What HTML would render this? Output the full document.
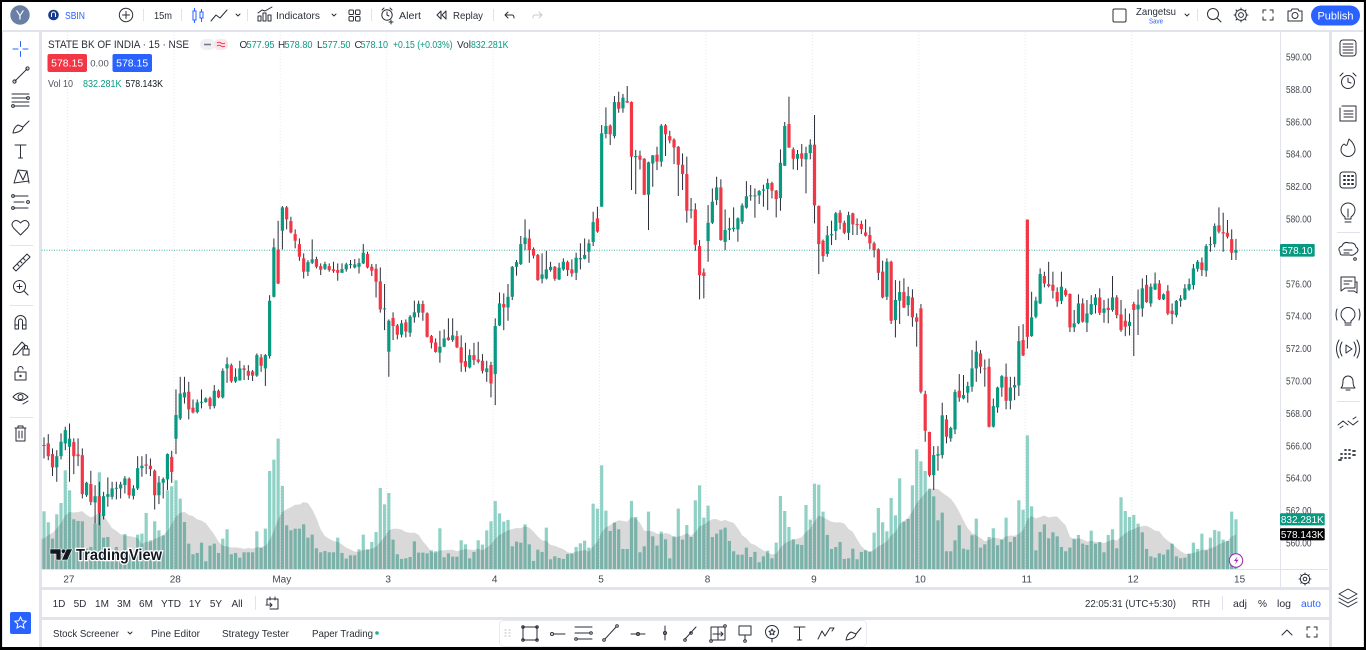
<!DOCTYPE html>
<html lang="en">
<head>
<meta charset="utf-8">
<title>SBIN 15m chart</title>
<style>
html,body{margin:0;padding:0;width:1366px;height:650px;overflow:hidden;background:#000}
#stage{position:absolute;left:2px;top:2px;width:1362px;height:645px;background:#e1e4ec}
.panel{position:absolute;background:#fff}
svg#main{position:absolute;left:0;top:0}
text{font-family:"Liberation Sans",sans-serif;font-size:10.5px;fill:#2a2e39}
.ic{fill:none;stroke:#2a2e39;stroke-width:1;stroke-linecap:round;stroke-linejoin:round}
.t{font-size:10.5px}
.teal{fill:#089981}
</style>
</head>
<body>
<div id="stage"></div>
<div class="panel" style="left:2px;top:2px;width:1361px;height:27.5px"></div>
<div class="panel" style="left:2.5px;top:32px;width:36px;height:615px"></div>
<div class="panel" style="left:41.5px;top:32px;width:1287px;height:555px"></div>
<div class="panel" style="left:41.5px;top:590px;width:1287px;height:26.7px"></div>
<div class="panel" style="left:41.5px;top:620px;width:1287px;height:27px"></div>
<div class="panel" style="left:1332px;top:32px;width:31px;height:615px"></div>

<svg id="main" width="1366" height="650" viewBox="0 0 1366 650" xmlns="http://www.w3.org/2000/svg">
<defs><clipPath id="plotClip"><rect x="41.5" y="32" width="1239" height="537.5"/></clipPath></defs>

<g id="grid"></g>
<g id="plot" clip-path="url(#plotClip)">
  <g id="volumes"></g>
  <path id="sma" fill="rgba(0,0,0,0.15)"></path>
  <line id="lastLine" x1="41.5" x2="1281" stroke="#089981" stroke-width="1" stroke-dasharray="1 1.5" opacity="0.75"></line>
  <g id="candles"></g>
</g>

<g>
  <g fill="#131722" stroke="#fff" stroke-width="0.6">
    <path d="M50 549h11v11h-5v-6h-6z"/><circle cx="63.6" cy="551.3" r="2.4"/><path d="M66.5 549h6l-5 11h-6z"/>
  </g>
  <text x="76" y="560" textLength="86" lengthAdjust="spacingAndGlyphs" style="font-size:15.5px;font-weight:bold;fill:#131722;stroke:#fff;stroke-width:2.5px;paint-order:stroke">TradingView</text>
</g>

<line x1="1280.5" y1="32" x2="1280.5" y2="587" stroke="#e0e3eb"/>
<line x1="41.5" y1="569.5" x2="1328" y2="569.5" stroke="#e0e3eb"/>
<g id="priceTicks"></g>
<g id="timeTicks"></g>

<g>
  <rect id="lastTag" x="1280" width="34.7" height="12.6" rx="1" fill="#089981"/>
  <text id="lastTagText" x="1297.3" fill="#fff" text-anchor="middle" style="fill:#fff;font-size:10px"></text>
</g>
<g>
  <rect x="1280" y="513.2" width="44.7" height="12.2" rx="1" fill="#089981"/>
  <text id="volTagText" x="1302.3" y="522.8" text-anchor="middle" style="fill:#fff;font-size:10px"></text>
</g>
<g>
  <rect x="1280" y="528.2" width="44.7" height="12.2" rx="1" fill="#000"/>
  <text id="smaTagText" x="1302.3" y="537.8" text-anchor="middle" style="fill:#fff;font-size:10px"></text>
</g>

<g>
  <circle cx="1236" cy="560.5" r="6.7" fill="#fff" stroke="#9c27b0" stroke-width="1"/>
  <path d="M1237.5 556.5l-3.5 4.5h2.4l-1.4 3.5 3.6-4.8h-2.4z" fill="#9c27b0"/>
</g>
<g transform="translate(1305,579)">
  <circle r="4.7" class="ic"/><circle r="1.8" class="ic"/>
  <path class="ic" d="M0-6v1.5M0 4.5V6M-6 0h1.5M4.5 0H6M-4.2-4.2l1 1M3.2 3.2l1 1M4.2-4.2l-1 1M-3.2 3.2l-1 1"/>
</g>

<!-- legend -->
<text x="48" y="48" textLength="141" lengthAdjust="spacingAndGlyphs" style="font-size:11px">STATE BK OF INDIA · 15 · NSE</text>
<g>
  <rect x="200" y="39" width="15" height="11" rx="5" fill="#eef0f3"/>
  <rect x="214" y="39" width="14" height="11" rx="5" fill="#fce4ec"/>
  <rect x="204" y="43.7" width="7" height="1.6" fill="#787b86"/>
  <path d="M217 43q2-1.5 4 0t4 0M217 46q2-1.5 4 0t4 0" fill="none" stroke="#f23645" stroke-width="1"/>
</g>
<g style="font-size:10px">
  <text x="239.5" y="48" style="font-size:10px">O</text><text x="246.5" y="48" class="teal" textLength="28" lengthAdjust="spacingAndGlyphs" style="font-size:10px">577.95</text>
  <text x="278" y="48" style="font-size:10px">H</text><text x="284.5" y="48" class="teal" textLength="28" lengthAdjust="spacingAndGlyphs" style="font-size:10px">578.80</text>
  <text x="317" y="48" style="font-size:10px">L</text><text x="322.5" y="48" class="teal" textLength="28" lengthAdjust="spacingAndGlyphs" style="font-size:10px">577.50</text>
  <text x="354.5" y="48" style="font-size:10px">C</text><text x="360.5" y="48" class="teal" textLength="27.5" lengthAdjust="spacingAndGlyphs" style="font-size:10px">578.10</text>
  <text x="393" y="48" class="teal" textLength="59.5" lengthAdjust="spacingAndGlyphs" style="font-size:10px">+0.15 (+0.03%)</text>
  <text x="457" y="48" textLength="14" lengthAdjust="spacingAndGlyphs" style="font-size:10px">Vol</text><text x="471" y="48" class="teal" textLength="37.5" lengthAdjust="spacingAndGlyphs" style="font-size:10px">832.281K</text>
</g>
<g><rect x="47.5" y="54" width="39.5" height="18" rx="2" fill="#f23645"/><text x="67.2" y="66.5" text-anchor="middle" style="fill:#fff;font-size:10.5px">578.15</text></g>
<text x="99.5" y="66.5" text-anchor="middle" style="font-size:9.5px;fill:#50535e">0.00</text>
<g><rect x="112.5" y="54" width="39.5" height="18" rx="2" fill="#2962ff"/><text x="132.2" y="66.5" text-anchor="middle" style="fill:#fff;font-size:10.5px">578.15</text></g>
<g>
  <text x="48" y="87" textLength="25" lengthAdjust="spacingAndGlyphs" style="font-size:10px;fill:#50535e">Vol 10</text>
  <text x="83" y="87" class="teal" textLength="38.5" lengthAdjust="spacingAndGlyphs" style="font-size:10px">832.281K</text>
  <text x="125.5" y="87" textLength="37.5" lengthAdjust="spacingAndGlyphs" style="font-size:10px;fill:#131722">578.143K</text>
</g>

<!-- top toolbar -->
<g><circle cx="20" cy="15" r="9.7" fill="#6a7fa6"/><text x="20" y="19.5" text-anchor="middle" style="fill:#fff;font-size:13px">Y</text></g>
<g><circle cx="53.5" cy="15" r="5.3" fill="#1a3a8a"/><path d="M51.5 17v-3a2 2 0 0 1 4 0v3" fill="none" stroke="#fff" stroke-width="1"/><text x="65" y="19" textLength="20" lengthAdjust="spacingAndGlyphs" style="font-size:10px;fill:#2962ff">SBIN</text></g>
<g transform="translate(126,15)"><circle r="6.7" class="ic"/><path class="ic" d="M-3.5 0h7M0-3.5v7"/></g>
<path d="M143.5 9v12M181.5 9v12M247.5 9v12M371.5 9v12M493.5 9v12M1197.5 9v12" stroke="#e0e3eb"/>
<text x="154" y="19" textLength="18" lengthAdjust="spacingAndGlyphs" style="font-size:10.5px">15m</text>
<g stroke="#2962ff" fill="none"><rect x="193" y="11" width="3" height="9"/><path d="M194.5 8v3M194.5 20v3"/><rect x="200" y="12" width="3" height="6"/><path d="M201.5 9v3M201.5 18v4"/></g>
<path class="ic" d="M211 21l5-6 4 3 7-8"/>
<path class="ic" d="M236 14l2 2 2-2" stroke-width="0.8"/>
<g><path class="ic" d="M258 21v-5h3v5zM263 21v-8h3v8zM268 21v-6h3v6zM258 13l4-3 3 1 7-4"/></g>
<text x="276" y="19" textLength="44" lengthAdjust="spacingAndGlyphs" style="font-size:10.5px">Indicators</text>
<path class="ic" d="M332 14l2 2 2-2"/>
<g class="ic"><rect x="349" y="10" width="4.5" height="4.5" rx="1"/><rect x="355.5" y="10" width="4.5" height="4.5" rx="1"/><rect x="349" y="16.5" width="4.5" height="4.5" rx="1"/><rect x="355.5" y="16.5" width="4.5" height="4.5" rx="1"/></g>
<g class="ic"><circle cx="387" cy="15" r="5.2"/><path d="M387 12v3l2 1M382 10l2-2M392 10l-2-2M391 20v4M389 22h4"/></g>
<text x="399" y="19" textLength="22" lengthAdjust="spacingAndGlyphs" style="font-size:10.5px">Alert</text>
<path class="ic" d="M441 11l-4 4 4 4zM446 11l-4 4 4 4z"/>
<text x="453" y="19" textLength="30" lengthAdjust="spacingAndGlyphs" style="font-size:10.5px">Replay</text>
<path class="ic" d="M508 12l-3 3 3 3M505 15h7q2 0 2 3"/>
<path class="ic" d="M539 12l3 3-3 3M542 15h-7q-2 0-2 3" style="stroke:#c8cad0"/>
<rect x="1113" y="9" width="13" height="13" rx="1.5" class="ic"/>
<text x="1136" y="15" textLength="40" lengthAdjust="spacingAndGlyphs" style="font-size:10.5px">Zangetsu</text>
<text x="1149" y="23.5" textLength="14" lengthAdjust="spacingAndGlyphs" style="font-size:7.5px;fill:#2962ff">Save</text>
<path class="ic" d="M1185 14l2 2 2-2"/>
<g class="ic"><circle cx="1213" cy="14" r="5.5"/><path d="M1217 18l4 4"/></g>
<g transform="translate(1241,15)" class="ic"><circle r="5.4"/><circle r="2.4"/><path d="M0-7v1.6M0 5.4V7M-7 0h1.6M5.4 0H7M-5-5l1.2 1.2M3.8 3.8L5 5M5-5L3.8-3.8M-3.8 3.8L-5 5"/></g>
<path class="ic" d="M1263 13v-3h3M1270 10h3v3M1273 17v3h-3M1266 20h-3v-3"/>
<g class="ic"><path d="M1288 11h3l1-2h6l1 2h3v10h-14z"/><circle cx="1295" cy="15.5" r="3"/></g>
<g><rect x="1311" y="5.5" width="49" height="20" rx="10" fill="#2962ff"/><text x="1335.5" y="19.5" text-anchor="middle" style="fill:#fff;font-size:11px">Publish</text></g>

<!-- left toolbar -->
<g class="ic">
  <path style="stroke:#2962ff" d="M13 49h5M23 49h5M20.500 41.500v5M20.500 51.500v5"/>
  <path d="M15 81l12-12"/><circle cx="14.500" cy="81.500" r="1.600"/><circle cx="27.500" cy="68.500" r="1.600"/>
  <path d="M12 94h17M12 98h15M12 102h17M14 106h15"/><circle cx="28" cy="98" r="1.400"/><circle cx="13" cy="106" r="1.400"/>
  <path d="M13 133q1-6 5-8l5 2q-1 5-10 6zM23 127l6-6"/>
  <path d="M15 145h11M20.500 145v13M18.500 158h4"/>
  <path d="M14 183l4-13 5 10 4-9 2 12M14 183l15-2M18 170l9 1"/>
  <path d="M14 196h14M14 202h10M14 208h14"/><circle cx="13" cy="196" r="1.400"/><circle cx="28" cy="202" r="1.400"/><circle cx="13" cy="208" r="1.400"/>
  <path d="M20.500 235l-7-7q-3-4 0-6.500t7 1.500q4-4 7-1.500t0 6.500z"/>
  <path d="M13 268l14-14 3 3-14 14zM17 264l2 2M20 261l2 2M23 258l2 2"/>
  <circle cx="19.500" cy="286.500" r="6"/><path d="M24 291l4 4M17 286.500h5M19.500 284v5"/>
  <path d="M15 329v-8a5.500 5.500 0 0 1 11 0v8h-3.500v-8a2 2 0 0 0-4 0v8zM15 325h3.500M22.500 325H26"/>
  <path d="M14 351l8-9 3 3-8 9-4 1zM23 349h6v6h-6zM24.500 349v-2a1.500 1.500 0 0 1 3 0v2"/>
  <path d="M15 372h11v8H15zM18 372v-3a2.500 2.500 0 0 1 5 0"/><circle cx="20.500" cy="376" r="0.700"/>
  <path d="M13 397q7-8 15 0q-8 7-15 0z"/><circle cx="20.500" cy="397" r="2.500"/><path d="M23 404l5-3"/>
  <path d="M15 428h11M18 428v-2h5v2M16 428v13h9v-13M19 431v7M22 431v7"/>
</g>
<path d="M10 245.500h23M10 305.500h23M10 417.500h23" stroke="#e0e3eb"/>
<g><rect x="10" y="612" width="21" height="22" rx="2" fill="#2962ff"/><path d="M20.500 617l1.700 3.700 4 .5-3 2.800.8 4-3.500-2-3.500 2 .8-4-3-2.800 4-.5z" fill="none" stroke="#fff"/></g>

<!-- right toolbar -->
<g class="ic">
  <g><rect x="1340" y="40" width="16" height="16" rx="3"/><path d="M1343 44h10M1343 47h10M1343 50h10M1343 53h10"/></g>
  <g><circle cx="1348" cy="82" r="6.500"/><path d="M1348 78v4l3 1M1340 76l3-3M1356 76l-3-3"/></g>
  <g><path d="M1342 106h11l3 0v15h-16v-13M1344 111h9M1344 114h9M1344 117h9"/></g>
  <g><path d="M1349 139q5 4 6 10a7 7 0 0 1-14 1q0-4 3-6 2 2 3 1 1-3 2-6z"/></g>
  <g><rect x="1340" y="172" width="16" height="16" rx="3"/><path d="M1344 176h1M1348 176h1M1352 176h1M1344 180h1M1348 180h1M1352 180h1M1344 184h1M1348 184h1M1352 184h1" stroke-width="2"/></g>
  <g><path d="M1345 217q-4-3-4-7a7 7 0 0 1 14 0q0 4-4 7v2h-6zM1345 222h6M1348 217v-8"/></g>
  <g><path d="M1340 252q-3-4 2-6 2-5 7-3 6-1 7 4 4 3 0 6-3 3-6 2h-8q-2 0-2-3zM1344 250h8M1344 253h5"/><circle cx="1355" cy="259" r="1.300"/></g>
  <g><path d="M1341 277h14v11h-10l-4 3zM1344 281h8M1344 284h5M1356 282h1v11l-3-2h-6"/></g>
  <g><path d="M1345 321q-4-3-4-6.500a7 7 0 0 1 14 0q0 3.500-4 6.500v2h-6zM1345 325h6M1337 309q-2 5 0 11M1359 309q2 5 0 11"/></g>
  <g><path d="M1346 345l6 4-6 4zM1342 342q-4 7 0 14M1354 342q4 7 0 14M1339 340q-5 9 0 18M1357 340q5 9 0 18"/></g>
  <g><path d="M1341 388q2-2 2-7a5 5 0 0 1 10 0q0 5 2 7zM1346 390h4"/></g>
  <g><path d="M1338 425l5-4 5 4M1348 421l5 4 5-4M1340 428l3-2M1353 419l3-2"/></g>
  <g><path d="M1341 454h1M1345 454h1M1349 454h1M1345 458h1M1349 458h1M1341 458h1M1353 451h2M1353 455h2M1345 450h1M1349 450h1M1339 460h2" stroke-width="1.800"/></g>
  <g><path d="M1348 589l9 5-9 5-9-5zM1339 598l9 5 9-5M1339 602l9 5 9-5"/></g>
</g>
<path d="M1337 232.500h23M1337 401.500h23" stroke="#e0e3eb"/>

<!-- range bar -->
<g style="font-size:10px">
  <text x="59" y="607" text-anchor="middle" style="font-size:10px">1D</text>
  <text x="80" y="607" text-anchor="middle" style="font-size:10px">5D</text>
  <text x="102" y="607" text-anchor="middle" style="font-size:10px">1M</text>
  <text x="124" y="607" text-anchor="middle" style="font-size:10px">3M</text>
  <text x="146" y="607" text-anchor="middle" style="font-size:10px">6M</text>
  <text x="171" y="607" text-anchor="middle" style="font-size:10px">YTD</text>
  <text x="195" y="607" text-anchor="middle" style="font-size:10px">1Y</text>
  <text x="216" y="607" text-anchor="middle" style="font-size:10px">5Y</text>
  <text x="237" y="607" text-anchor="middle" style="font-size:10px">All</text>
</g>
<path d="M255.500 596v14" stroke="#e0e3eb"/>
<path class="ic" d="M267 599h11v10h-8M267 599v5M270 597v3M275 597v3M266 605h6M270 603l2 2-2 2"/>
<text x="1085" y="607" textLength="91" lengthAdjust="spacingAndGlyphs" style="font-size:10.5px">22:05:31 (UTC+5:30)</text>
<text x="1192" y="607" textLength="18" lengthAdjust="spacingAndGlyphs" style="font-size:10.5px">RTH</text>
<path d="M1222.500 596v14" stroke="#e0e3eb"/>
<text x="1233" y="607" textLength="14" lengthAdjust="spacingAndGlyphs" style="font-size:10.5px">adj</text>
<text x="1258" y="607" textLength="9" lengthAdjust="spacingAndGlyphs" style="font-size:10.5px">%</text>
<text x="1277" y="607" textLength="14" lengthAdjust="spacingAndGlyphs" style="font-size:10.5px">log</text>
<text x="1301" y="607" textLength="20" lengthAdjust="spacingAndGlyphs" style="font-size:10.5px;fill:#2962ff">auto</text>

<!-- bottom panel -->
<text x="53" y="637" textLength="66" lengthAdjust="spacingAndGlyphs" style="font-size:10.5px">Stock Screener</text>
<path class="ic" d="M128 632l2 2 2-2"/>
<text x="151" y="637" textLength="49" lengthAdjust="spacingAndGlyphs" style="font-size:10.5px">Pine Editor</text>
<text x="222" y="637" textLength="67" lengthAdjust="spacingAndGlyphs" style="font-size:10.5px">Strategy Tester</text>
<text x="312" y="637" textLength="61" lengthAdjust="spacingAndGlyphs" style="font-size:10.5px">Paper Trading</text>
<circle cx="377" cy="633" r="1.800" fill="#22ab94"/>
<path class="ic" d="M1282 635l5-5 5 5"/>
<path class="ic" d="M1307 630v-3h3M1314 627h3v3M1317 634v3h-3M1310 637h-3v-3"/>

<!-- floating drawing bar -->
<g>
  <rect x="499.500" y="620.500" width="367" height="26" rx="4" fill="#fff" stroke="#e8eaf0"/>
  <g class="ic">
    <path d="M505 630h1M509 630h1M505 633h1M509 633h1M505 636h1M509 636h1" style="stroke:#b2b5be"/>
    <g><rect x="523" y="627" width="14" height="13"/><circle cx="523" cy="627" r="1.300"/><circle cx="537" cy="627" r="1.300"/><circle cx="523" cy="640" r="1.300"/><circle cx="537" cy="640" r="1.300"/></g>
    <g><circle cx="552" cy="634" r="1.500"/><path d="M554 634h11"/></g>
    <g><path d="M575 627h17M575 633h15M577 639h15"/><circle cx="591" cy="633" r="1.300"/><circle cx="576" cy="639" r="1.300"/></g>
    <g><path d="M605 639l11-12"/><circle cx="604" cy="640" r="1.300"/><circle cx="617" cy="626" r="1.300"/></g>
    <g><path d="M631 634h14"/><circle cx="638" cy="634" r="1.500"/></g>
    <g><path d="M665 626v14"/><circle cx="665" cy="633" r="1.500"/></g>
    <g><path d="M685 639l11-12"/><circle cx="685" cy="640" r="1.300"/><circle cx="691" cy="633" r="1.300"/></g>
    <g><rect x="711" y="627" width="14" height="13"/><path d="M718 627v13M713 634h10M721 632l2 2-2 2"/><circle cx="725" cy="626" r="1.300"/><circle cx="711" cy="641" r="1.300"/></g>
    <g><rect x="739" y="626" width="12" height="9"/><path d="M745 635v5"/><circle cx="745" cy="641" r="1.300"/></g>
    <g><circle cx="772" cy="632" r="6.500"/><path d="M772 629l1 2 2 .3-1.500 1.500.4 2-1.900-1-1.900 1 .4-2-1.500-1.500 2-.3zM772 639v3"/></g>
    <path d="M794 627h11M799.500 627v13M797.500 640h4"/>
    <path d="M818 639l4-8 3 5 5-8M830 628l4 0-2 3"/>
    <path d="M846 640q1-6 5-8l5 2q-1 5-10 6zM856 634l5-6"/>
  </g>
</g>
</svg>

<script>
const opens=[566.04,566.18,565.52,564.70,565.39,566.18,565.97,566.26,565.5,565.45,562.98,563.67,562.53,562.92,561.69,562.88,562.88,563.38,563.4,563.61,564.0,562.94,563.4,564.65,564.88,564.8,564.49,562.98,563.75,563.96,565.35,566.47,567.72,569.02,569.37,568.38,568.11,568.69,568.73,568.97,568.48,569.43,569.02,570.81,571.01,570.0,570.07,570.81,570.66,570.62,570.36,571.49,570.81,571.57,575.23,578.15,579.31,580.75,579.9,579.1,578.48,577.6,576.78,577.33,577.56,577.12,576.96,577.12,576.92,576.88,576.71,576.92,577.19,577.04,577.08,577.29,577.87,577.08,576.96,576.18,574.49,571.84,573.92,573.46,572.89,573.65,573.01,573.96,574.25,574.78,574.21,572.8,572.41,571.78,572.15,572.72,572.56,572.8,572.11,571.26,570.87,571.63,571.36,571.28,570.58,571.02,570.46,573.46,574.78,574.57,575.23,577.08,577.25,578.48,578.83,578.18,577.81,576.34,576.36,576.88,577.08,576.3,576.92,577.37,576.92,576.71,577.54,577.58,578.01,578.61,580.07,580.79,585.28,585.79,585.15,587.25,586.86,587.31,587.25,583.84,583.94,583.75,581.53,583.46,584.0,583.57,585.81,585.15,584.93,584.49,583.38,582.81,580.56,580.62,578.36,576.73,578.67,579.8,581.2,581.98,578.61,579.35,579.41,579.39,579.86,580.73,581.43,581.45,581.49,581.78,581.88,582.25,581.78,581.32,583.32,585.89,584.33,583.75,584.08,583.71,584.1,584.62,580.83,578.69,577.87,579.02,579.29,580.42,579.8,579.18,580.38,579.72,579.72,579.2,579.04,578.53,578.16,576.78,575.23,577.39,573.79,574.99,575.52,574.72,575.19,573.96,574.51,569.22,566.88,564.22,565.42,565.46,567.66,566.49,567.04,569.43,568.96,569.31,569.68,570.81,571.73,570.81,570.91,567.21,568.4,569.63,570.29,568.81,569.63,569.76,572.56,580.0,572.8,574.0,574.82,576.51,576.01,575.97,575.52,574.98,575.64,575.4,573.34,573.59,574.82,573.63,574.16,574.72,575.19,574.24,574.55,574.41,575.19,574.14,573.75,573.42,574.78,574.45,574.51,575.97,574.82,575.68,576.05,575.07,575.6,574.37,574.1,574.98,575.07,575.68,575.95,576.96,577.35,576.84,578.42,578.48,579.64,579.22,579.18,578.79,577.95];
const highs=[566.55,566.75,565.87,565.76,566.80,567.21,567.41,566.49,566.49,565.87,563.81,564.49,563.6,563.81,563.19,564.08,563.81,563.81,563.81,564.16,564.08,563.6,565.39,565.39,565.52,565.25,564.57,564.16,564.08,565.56,565.72,569.51,570.29,570.29,569.98,568.89,568.89,569.51,569.02,569.06,569.78,569.51,570.81,571.49,571.11,570.81,571.28,571.01,571.01,570.71,571.73,571.69,571.69,575.33,578.83,579.92,580.83,580.83,580.17,579.39,578.83,577.91,577.49,578.77,577.7,577.29,577.39,577.29,577.39,577.29,577.29,577.33,577.5,577.56,577.6,578.48,578.01,577.25,577.25,577.04,576.02,573.83,574.27,573.55,573.79,573.83,574.1,574.99,574.99,574.99,574.27,572.87,572.66,573.13,573.22,573.9,573.9,573.13,572.85,572.39,571.98,572.39,572.45,571.69,571.28,571.22,573.9,575.5,575.44,576.02,577.13,577.5,578.98,580.01,579.39,578.28,577.87,577.91,578.07,577.39,577.13,577.33,577.6,577.46,577.54,577.95,578.53,578.83,578.77,580.48,580.79,585.83,586.92,585.87,587.62,587.89,587.75,588.24,587.29,584.29,584.25,583.79,583.57,583.98,584.49,585.89,585.89,585.48,585.01,584.53,584.08,583.88,581.33,581.0,578.73,576.98,580.89,581.92,582.64,582.48,580.62,580.11,580.75,580.13,581.0,582.37,582.13,581.92,581.82,582.15,582.52,582.33,581.82,584.33,586.02,587.58,584.45,584.29,584.66,584.49,584.95,586.45,580.87,578.77,579.6,579.93,580.46,580.58,579.93,580.48,580.42,580.07,579.93,580.01,579.55,578.63,578.22,577.46,577.6,577.46,576.26,576.22,576.37,575.85,575.69,574.21,574.78,569.43,566.9,566.01,566.01,568.69,567.93,567.21,569.51,570.46,570.4,569.98,571.94,572.52,571.94,571.36,571.42,568.95,569.68,570.39,571.11,570.29,570.29,573.42,573.54,580.0,575.54,575.23,576.98,576.78,577.39,576.78,575.81,576.78,575.75,575.44,574.41,575.38,575.13,575.03,575.33,575.4,575.75,575.03,575.13,576.51,575.33,575.03,574.51,574.2,574.92,575.68,576.36,576.57,576.05,576.73,576.26,575.44,575.95,574.82,575.03,575.33,576.01,576.36,577.25,577.5,577.66,578.48,578.94,579.76,580.75,580.42,579.97,579.39,578.8];
const lows=[565.25,565.14,564.16,563.81,565.19,565.76,563.81,564.28,564.78,562.78,562.88,562.37,561.24,561.13,561.48,562.27,562.72,562.72,562.78,563.09,562.78,562.72,563.3,564.12,564.28,564.16,562.1,562.43,562.78,563.3,563.75,565.52,567.62,568.64,567.66,568.03,568.03,568.34,568.69,568.28,568.34,568.97,568.95,569.92,569.92,569.92,570.05,570.09,570.09,570.03,570.29,570.6,569.72,571.42,575.19,576.01,578.15,579.39,579.14,578.22,577.45,576.36,576.51,577.25,576.98,576.57,576.88,576.78,576.71,576.22,576.71,576.78,576.98,576.98,576.67,577.25,576.98,576.51,575.19,574.25,573.17,570.29,572.56,572.6,572.72,572.72,572.76,573.63,573.96,573.75,572.72,572.04,571.78,571.16,572.11,572.52,572.45,572.06,570.6,570.6,570.81,571.01,571.12,570.5,569.98,569.02,568.54,573.42,573.17,573.75,575.03,576.53,577.19,578.11,577.33,577.6,576.22,576.06,576.3,576.78,576.22,576.26,576.84,576.51,576.47,576.26,576.92,577.54,577.33,578.36,579.18,580.79,585.01,584.6,585.01,586.59,586.59,587.21,581.82,581.57,583.09,581.51,579.35,582.02,583.05,583.26,583.92,584.7,583.42,581.45,581.82,579.8,580.07,578.07,575.07,575.13,577.39,579.72,580.89,578.69,578.11,578.73,579.25,578.63,579.72,580.67,581.16,580.11,580.96,580.79,580.58,581.3,580.13,580.54,583.3,584.41,583.09,583.05,583.26,581.61,583.71,579.76,576.63,577.39,577.7,578.42,578.73,579.39,579.1,578.73,579.04,579.04,579.1,578.94,578.16,577.66,576.26,575.13,575.03,573.55,572.72,573.55,574.53,574.04,573.38,572.15,569.26,566.28,564.12,563.3,564.49,565.25,566.18,566.28,566.75,568.75,568.9,568.69,569.37,569.98,570.5,569.68,567.16,567.16,568.07,569.06,568.28,568.28,568.85,569.1,571.57,572.04,572.76,573.9,574.78,575.81,575.81,575.13,574.61,574.78,575.23,573.05,573.05,573.54,573.63,573.05,574.1,574.2,574.1,573.63,573.59,574.31,573.9,573.07,572.8,572.84,571.57,572.87,574.0,574.86,574.61,575.64,575.03,575.03,574.1,573.54,573.96,574.61,575.03,575.6,575.68,576.78,576.51,576.47,578.01,578.28,579.14,578.01,578.83,577.5,577.5];
const closes=[566.08,565.39,564.70,565.39,566.28,567.0,566.47,565.39,565.39,563.05,563.75,562.57,562.92,561.89,562.92,563.05,563.4,563.44,563.65,564.02,562.98,563.4,564.65,564.8,564.8,564.59,562.98,563.77,563.98,565.52,564.41,567.93,569.26,569.33,568.28,568.09,568.71,568.75,568.95,568.48,569.43,569.02,570.66,571.07,570.02,570.29,570.81,570.71,570.36,570.36,571.63,570.97,571.63,574.98,578.28,576.05,580.75,580.01,579.2,578.69,577.7,576.78,577.37,577.54,577.08,576.9,577.25,576.88,576.82,576.71,576.94,577.23,577.25,577.23,577.31,577.95,577.04,576.84,576.16,574.45,574.51,573.75,573.42,572.89,573.59,573.09,574.0,574.27,574.8,574.25,572.76,572.39,571.82,572.15,572.66,572.56,572.85,572.11,571.16,570.91,571.63,571.32,571.22,570.66,570.81,569.88,573.42,574.82,574.57,575.23,577.08,577.37,578.48,578.88,578.11,577.77,576.26,576.61,576.92,577.08,576.34,577.02,577.39,576.88,576.67,577.64,577.62,577.81,578.53,579.84,579.25,585.32,585.77,585.26,587.25,586.84,587.52,587.21,583.88,583.92,583.69,581.53,583.53,583.96,583.57,585.79,585.26,584.88,584.45,583.38,582.81,580.54,580.62,578.44,576.57,576.51,579.8,581.1,581.98,578.73,579.35,579.45,579.49,580.07,580.87,581.43,581.49,581.49,581.76,581.86,582.25,581.78,581.26,583.5,585.77,584.45,583.75,584.04,583.75,584.1,584.62,580.87,578.48,577.74,579.02,579.1,580.38,579.8,579.18,580.27,579.7,579.68,579.41,579.0,578.53,578.11,576.71,575.19,577.39,573.75,575.03,575.52,574.57,575.27,573.96,573.69,569.37,566.96,564.22,565.46,565.52,567.91,566.59,567.13,569.35,569.0,569.16,569.72,570.81,571.84,570.91,570.75,567.21,568.48,569.63,570.33,568.81,569.63,569.78,572.49,571.61,572.76,573.96,574.99,576.63,576.05,575.89,575.6,574.94,575.85,575.33,573.34,573.59,574.82,573.69,574.2,574.78,575.19,574.24,574.51,574.41,575.19,574.1,573.17,573.38,573.69,574.41,574.74,575.75,574.9,575.85,576.05,575.07,575.38,574.2,574.16,574.98,575.13,575.75,576.01,576.98,577.39,576.88,578.36,578.48,579.6,579.25,579.14,578.94,577.95,578.1];
const volumes=[966,783,511,916,1104,1648,1315,833,805,799,344,372,760,1615,527,538,261,372,250,588,250,233,577,594,938,483,799,649,566,1315,1382,1482,1177,788,427,250,272,444,133,394,427,272,511,666,250,272,194,283,283,283,633,355,677,1637,1826,2176,1388,733,649,677,677,749,527,577,350,283,305,283,283,527,272,178,233,233,333,577,333,455,622,1354,1082,1271,494,250,172,183,205,466,278,278,266,316,300,683,200,266,211,211,483,416,183,289,483,411,649,799,1138,932,794,821,383,461,444,749,416,139,327,289,694,167,216,189,172,255,261,372,433,477,361,1093,1010,1732,977,638,777,666,339,339,1138,871,283,383,960,549,394,627,500,183,549,1010,494,738,538,1149,1399,860,1060,538,594,660,694,472,300,244,244,361,205,289,117,216,311,183,444,1221,971,705,500,416,405,1071,827,1426,1410,960,572,339,372,455,172,183,344,167,289,316,294,611,1021,783,633,1188,899,1515,794,838,1399,1998,1798,1637,1343,1215,816,944,300,300,483,733,344,327,566,844,361,416,538,683,400,494,860,455,538,1149,993,2231,1049,316,622,749,516,616,549,372,300,361,511,572,427,405,644,427,455,283,572,666,350,1199,971,871,905,760,616,339,216,194,266,244,327,427,216,183,194,261,444,339,594,316,527,655,633,494,472,960,832.281];
const priorVolumes=[167,167,194,194,333,777,916,722,666];
const smaPeriod=10;
const priceTicks=[590,588,586,584,582,580,578,576,574,572,570,568,566,564,562,560];
const timeLabels=["27","28","May","3","4","5","8","9","10","11","12","15"];
const timeLabelBars=[5,30,55,80,105,130,155,180,205,230,255,280];
const gridBars=[5,30,55,80,105,130,155,180,205,230,255];

const SVGNS="http://www.w3.org/2000/svg";
function xScale(i){return 44+i*4.257;}
function yPrice(p){return 57.5+(590-p)*16.2;}
function yVolume(v){return 569.3-v/16.65;}
function mk(tag,parent){const e=document.createElementNS(SVGNS,tag);parent.appendChild(e);return e;}
function fmtK(v){return v.toFixed(3)+"K";}

const gridG=document.getElementById("grid");
gridBars.forEach(function(b){
  const l=mk("line",gridG);
  
  
  const x=xScale(b+0.5);
  l.setAttribute("x1",x);l.setAttribute("x2",x);l.setAttribute("y1",32);l.setAttribute("y2",569);
  l.setAttribute("stroke","#e6e9f0");l.setAttribute("stroke-dasharray","1 2");
});

const volG=document.getElementById("volumes");
volumes.forEach(function(v,i){
  const r=mk("rect",volG);
  
  
  const y=yVolume(v);
  r.setAttribute("x",(xScale(i)-1.6).toFixed(2));
  r.setAttribute("y",y.toFixed(2));
  r.setAttribute("width",3.2);
  r.setAttribute("height",(569.3-y).toFixed(2));
  r.setAttribute("fill","rgba(8,153,129,0.45)");
});

const allVols=priorVolumes.concat(volumes);
const smaValues=volumes.map(function(_,i){
  let s=0;
  for(let k=0;k<smaPeriod;k++){s+=allVols[i+priorVolumes.length-k]||0;}
  return s/smaPeriod;
});
let d="M41.5 569.3L41.5 "+yVolume(smaValues[0]).toFixed(2);
smaValues.forEach(function(v,i){d+="L"+xScale(i).toFixed(2)+" "+yVolume(v).toFixed(2);});
d+="L"+xScale(smaValues.length-1).toFixed(2)+" 569.3Z";
document.getElementById("sma").setAttribute("d",d);

const candG=document.getElementById("candles");
opens.forEach(function(o,i){
  const c=closes[i],up=c>=o,color=up?"#089981":"#f23645",x=xScale(i);
  const g=mk("g",candG);
  
  
  const w=mk("line",g);
  w.setAttribute("x1",x.toFixed(2));w.setAttribute("x2",x.toFixed(2));
  w.setAttribute("y1",yPrice(highs[i]).toFixed(2));w.setAttribute("y2",yPrice(lows[i]).toFixed(2));
  w.setAttribute("stroke","#2a2e39");w.setAttribute("stroke-width",1);
  const b=mk("rect",g);
  const top=yPrice(Math.max(o,c)),bot=yPrice(Math.min(o,c));
  b.setAttribute("x",(x-1.6).toFixed(2));b.setAttribute("y",top.toFixed(2));
  b.setAttribute("width",3.2);b.setAttribute("height",Math.max(bot-top,1).toFixed(2));
  b.setAttribute("fill",color);
});

const lastClose=closes[closes.length-1];
const lastY=yPrice(lastClose);
const lastLine=document.getElementById("lastLine");
lastLine.setAttribute("y1",lastY.toFixed(1));lastLine.setAttribute("y2",lastY.toFixed(1));
document.getElementById("lastTag").setAttribute("y",(lastY-6.3).toFixed(1));
const ltt=document.getElementById("lastTagText");
ltt.setAttribute("y",(lastY+3.5).toFixed(1));
ltt.textContent=lastClose.toFixed(2);
document.getElementById("volTagText").textContent=fmtK(volumes[volumes.length-1]);
document.getElementById("smaTagText").textContent="578.143K";

const ptG=document.getElementById("priceTicks");
priceTicks.forEach(function(p){
  const t=mk("text",ptG);
  
  
  t.setAttribute("x",1286);t.setAttribute("y",(yPrice(p)+3).toFixed(1));
  t.setAttribute("textLength",25.5);t.setAttribute("lengthAdjust","spacingAndGlyphs");
  t.setAttribute("style","font-size:10px;fill:#434651");
  t.textContent=p.toFixed(2);
});

const ttG=document.getElementById("timeTicks");
timeLabels.forEach(function(lab,i){
  const t=mk("text",ttG);
  
  
  t.setAttribute("x",(xScale(timeLabelBars[i]+0.5)+1.5).toFixed(1));t.setAttribute("y",582.5);
  t.setAttribute("text-anchor","middle");
  t.setAttribute("style","font-size:10px;fill:#434651");
  t.textContent=lab;
});
</script>
</body>
</html>
